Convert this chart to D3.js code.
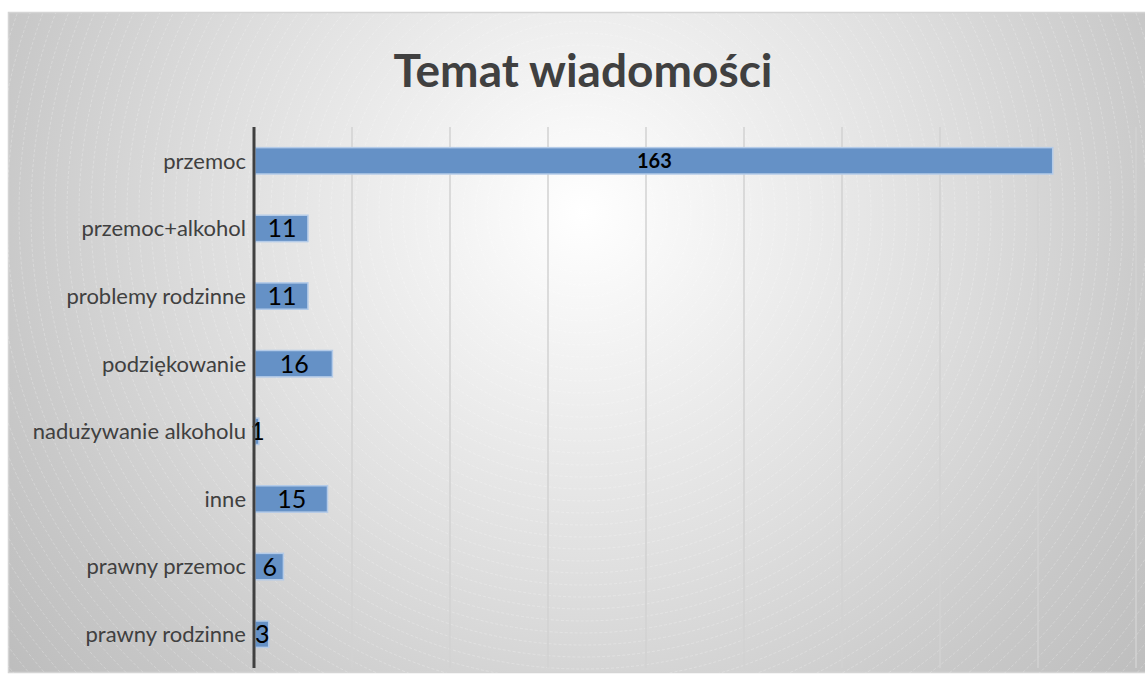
<!DOCTYPE html>
<html>
<head>
<meta charset="utf-8">
<script src="https://cdn.jsdelivr.net/npm/d3@7"></script>
<style>
  html, body { margin: 0; padding: 0; background: #fff; }
  svg { display: block; font-family: Lato, "Open Sans", sans-serif; }
</style>
</head>
<body>
<div id="chart"></div>
<script>
// Data
const categories = [
  "przemoc",
  "przemoc+alkohol",
  "problemy rodzinne",
  "podziękowanie",
  "nadużywanie alkoholu",
  "inne",
  "prawny przemoc",
  "prawny rodzinne"
];
const values = [163, 11, 11, 16, 1, 15, 6, 3];
const xTicks = [0, 20, 40, 60, 80, 100, 120, 140, 160, 180];

const W = 1145, H = 677;
const plot = { left: 254, right: 1136, top: 127, bottom: 668 };

const svg = d3.select("#chart").append("svg")
  .attr("width", W)
  .attr("height", H);

// Background gradient
const defs = svg.append("defs");
const grad = defs.append("radialGradient")
  .attr("id", "bg")
  .attr("gradientUnits", "userSpaceOnUse")
  .attr("cx", 583).attr("cy", 213).attr("r", 740);
grad.append("stop").attr("offset", 0).attr("stop-color", "#ffffff");
grad.append("stop").attr("offset", 0.18).attr("stop-color", "#f3f3f3");
grad.append("stop").attr("offset", 0.5).attr("stop-color", "#dedede");
grad.append("stop").attr("offset", 0.8).attr("stop-color", "#c8c8c8");
grad.append("stop").attr("offset", 1).attr("stop-color", "#bdbdbd");

defs.append("clipPath").attr("id", "clip")
  .append("rect").attr("x", 8).attr("y", 13).attr("width", W).attr("height", 660);

svg.append("rect")
  .attr("x", 8.5).attr("y", 12.5)
  .attr("width", W + 10).attr("height", 660)
  .attr("fill", "url(#bg)")
  .attr("stroke", "#d4d4d4")
  .attr("stroke-width", 1.5);

// faint rings of the background texture
svg.append("g").attr("clip-path", "url(#clip)")
  .selectAll("circle")
  .data(d3.range(60, 760, 12))
  .join("circle")
  .attr("cx", 583).attr("cy", 213)
  .attr("r", d => d)
  .attr("fill", "none")
  .attr("stroke", "#ffffff")
  .attr("stroke-opacity", 0.3)
  .attr("stroke-width", 0.8)
  .attr("stroke-dasharray", "3,2");

// Title
svg.append("text")
  .attr("x", 583)
  .attr("y", 87)
  .attr("text-anchor", "middle")
  .attr("font-size", 46)
  .attr("font-weight", "bold")
  .attr("fill", "#404040")
  .text("Temat wiadomości");

// Scales
const x = d3.scaleLinear()
  .domain([0, 180])
  .range([plot.left, plot.right]);

const y = d3.scaleBand()
  .domain(categories)
  .range([plot.top, plot.bottom])
  .paddingInner(0.61)
  .paddingOuter(0.305);

// Gridlines
svg.append("g")
  .selectAll("line")
  .data(xTicks.slice(1))
  .join("line")
  .attr("x1", d => x(d)).attr("x2", d => x(d))
  .attr("y1", plot.top).attr("y2", plot.bottom)
  .attr("stroke", "#d2d2d2")
  .attr("stroke-width", 1.5);

// Bars
svg.append("g")
  .selectAll("rect")
  .data(values)
  .join("rect")
  .attr("x", x(0) + 1)
  .attr("y", (d, i) => y(categories[i]))
  .attr("width", d => x(d) - x(0) - 1)
  .attr("height", y.bandwidth())
  .attr("fill", "#6591c6")
  .attr("stroke", "#b4cbe8")
  .attr("stroke-width", 1.5);

// Value labels
svg.append("g")
  .selectAll("text")
  .data(values)
  .join("text")
  .attr("x", d => (x(0) + x(d)) / 2 + 1)
  .attr("y", (d, i) => y(categories[i]) + y.bandwidth() / 2)
  .attr("dy", "0.36em")
  .attr("text-anchor", "middle")
  .attr("font-size", d => d > 100 ? 20 : 25)
  .attr("font-weight", d => d > 100 ? "bold" : "normal")
  .attr("fill", "#000")
  .text(d => d);

// Category axis
const yAxis = svg.append("g")
  .attr("transform", `translate(${plot.left},0)`)
  .call(d3.axisLeft(y).tickSize(0).tickPadding(8));
yAxis.attr("font-size", null).attr("font-family", null);
yAxis.select(".domain")
  .attr("d", `M0,${plot.top}V${plot.bottom}`)
  .attr("stroke", "#404040")
  .attr("stroke-width", 3);
yAxis.selectAll(".tick text")
  .style("font-family", "Lato, sans-serif")
  .style("font-size", "22px")
  .attr("dy", "0.36em")
  .attr("fill", "#404040");
</script>
</body>
</html>
